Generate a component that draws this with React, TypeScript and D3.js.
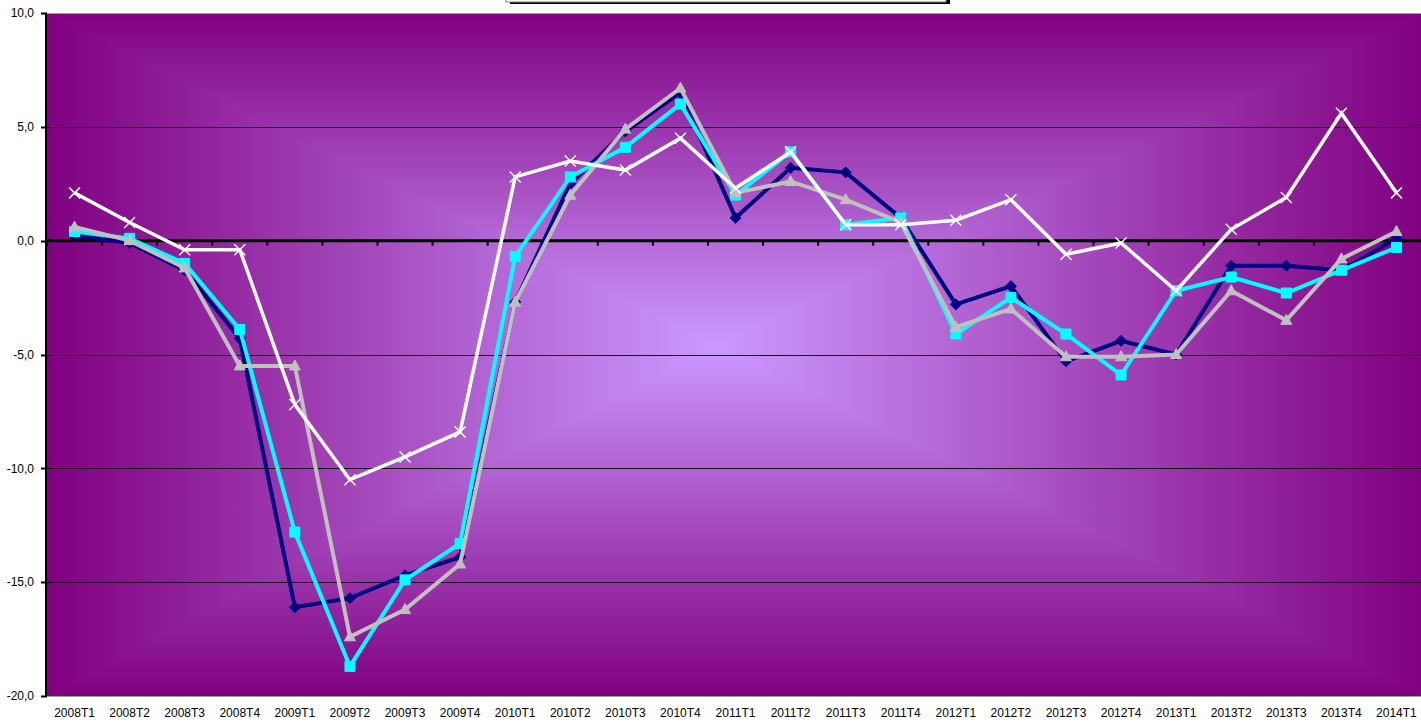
import * as d3 from "d3";

const quarters = [
  "2008T1", "2008T2", "2008T3", "2008T4",
  "2009T1", "2009T2", "2009T3", "2009T4",
  "2010T1", "2010T2", "2010T3", "2010T4",
  "2011T1", "2011T2", "2011T3", "2011T4",
  "2012T1", "2012T2", "2012T3", "2012T4",
  "2013T1", "2013T2", "2013T3", "2013T4",
  "2014T1",
];

const navyValues = [
  0.2, -0.1, -1.3, -4.3, -16.1, -15.7, -14.7, -13.9, -2.7, 2.5, 4.8, 6.5, 1.0,
  3.2, 3.0, 1.0, -2.8, -2.0, -5.3, -4.4, -5.0, -1.1, -1.1, -1.3, 0.1,
];
const cyanValues = [
  0.4, 0.1, -1.0, -3.9, -12.8, -18.7, -14.9, -13.3, -0.7, 2.8, 4.1, 6.0, 2.0,
  3.9, 0.7, 1.0, -4.1, -2.5, -4.1, -5.9, -2.2, -1.6, -2.3, -1.3, -0.3,
];
const greyValues = [
  0.6, 0.0, -1.2, -5.5, -5.5, -17.4, -16.2, -14.2, -2.7, 2.0, 4.9, 6.7, 2.1,
  2.6, 1.8, 0.8, -3.8, -3.0, -5.1, -5.1, -5.0, -2.2, -3.5, -0.8, 0.4,
];
const whiteValues = [
  2.1, 0.8, -0.4, -0.4, -7.2, -10.5, -9.5, -8.4, 2.8, 3.5, 3.1, 4.5, 2.3, 3.9,
  0.7, 0.7, 0.9, 1.8, -0.6, -0.1, -2.2, 0.5, 1.9, 5.6, 2.1,
];

const yTicks = [10, 5, 0, -5, -10, -15, -20];

const W = 1421;
const H = 722;
const left = 47;
const right = 1424;
const top = 13;
const bottom = 696;

const x = d3.scaleBand<string>().domain(quarters).range([left, right]);
const y = d3.scaleLinear().domain([-20, 10]).range([bottom, top]);
const cx = (q: string) => (x(q) as number) + x.bandwidth() / 2;

const line = d3
  .line<number>()
  .x((_, i) => cx(quarters[i]))
  .y((d) => y(d));

const fmt = (v: number) => v.toFixed(1).replace(".", ",");

const EDGE = "#800080";
const CENTER = "#cc99ff";

type Marker = "diamond" | "square" | "triangle" | "cross";

const series: { name: string; values: number[]; color: string; marker: Marker; width: number }[] = [
  { name: "navy", values: navyValues, color: "#000080", marker: "diamond", width: 4 },
  { name: "cyan", values: cyanValues, color: "#00ffff", marker: "square", width: 4 },
  { name: "grey", values: greyValues, color: "#c0c0c0", marker: "triangle", width: 4 },
  { name: "white", values: whiteValues, color: "#ffffff", marker: "cross", width: 3.5 },
];

function markerPath(m: Marker) {
  if (m === "diamond") return "M0,-5.5L5.5,0L0,5.5L-5.5,0Z";
  if (m === "square") return "M-5,-5H5V5H-5Z";
  if (m === "triangle") return "M0,-6L5.5,4H-5.5Z";
  return "M-5.5,-5.5L5.5,5.5M-5.5,5.5L5.5,-5.5";
}

const App = () => {
  // lightest point of the "from centre" fill
  const mx = 715;
  const my = 345;
  return (
    <svg
      width={W}
      height={H}
      style={{ position: "absolute", left: 0, top: 0, background: "#ffffff" }}
      fontFamily="'Liberation Sans', Arial, sans-serif"
    >
      <defs>
        <linearGradient id="gH" gradientUnits="userSpaceOnUse" x1={left} y1={0} x2={right} y2={0}>
          <stop offset="0" stopColor={EDGE} />
          <stop offset={(mx - left) / (right - left)} stopColor={CENTER} />
          <stop offset="1" stopColor={EDGE} />
        </linearGradient>
        <linearGradient id="gV" gradientUnits="userSpaceOnUse" x1={0} y1={top} x2={0} y2={bottom}>
          <stop offset="0" stopColor={EDGE} />
          <stop offset={(my - top) / (bottom - top)} stopColor={CENTER} />
          <stop offset="1" stopColor={EDGE} />
        </linearGradient>
      </defs>

      {/* rectangular fill: horizontal gradient, then top/bottom wedges with the vertical one */}
      <rect x={left} y={top} width={right - left} height={bottom - top} fill="url(#gH)" />
      <path d={`M${left},${top}L${right},${top}L${mx},${my}Z`} fill="url(#gV)" />
      <path d={`M${left},${bottom}L${right},${bottom}L${mx},${my}Z`} fill="url(#gV)" />

      {/* legend box, mostly cut off at the top */}
      <rect x={510} y={-40} width={440} height={44} fill="#000000" />
      <rect x={506} y={-40} width={440} height={42} fill="#ffffff" stroke="#808080" strokeWidth={1} />

      {/* plot border top/bottom */}
      <line x1={left} x2={right} y1={top + 0.5} y2={top + 0.5} stroke="#a0a0a0" />
      <line x1={left} x2={right} y1={bottom + 0.5} y2={bottom + 0.5} stroke="#a0a0a0" />

      {/* gridlines */}
      {yTicks
        .filter((t) => t !== 0 && t !== 10 && t !== -20)
        .map((t) => (
          <line key={t} x1={left} x2={right} y1={Math.round(y(t)) + 0.5} y2={Math.round(y(t)) + 0.5} stroke="#1a0a1a" strokeWidth={1} />
        ))}

      {/* y axis */}
      <line x1={left - 1} x2={left - 1} y1={top} y2={bottom} stroke="#000000" strokeWidth={2} />
      {yTicks.map((t) => (
        <g key={t}>
          <line x1={left - 6} x2={left} y1={Math.round(y(t)) + 0.5} y2={Math.round(y(t)) + 0.5} stroke="#000000" strokeWidth={2} />
          <text x={34} y={y(t)} dy="0.35em" textAnchor="end" fontSize={12} fill="#000000">
            {fmt(t)}
          </text>
        </g>
      ))}

      {/* zero line with category ticks */}
      <line x1={left} x2={right} y1={y(0)} y2={y(0)} stroke="#000000" strokeWidth={3} />
      {quarters.map((q) => (
        <line key={q} x1={x(q) as number} x2={x(q) as number} y1={y(0)} y2={y(0) + 5} stroke="#000000" strokeWidth={2} />
      ))}

      {/* x labels */}
      {quarters.map((q) => (
        <text key={q} x={cx(q)} y={717} textAnchor="middle" fontSize={12} fill="#000000">
          {q}
        </text>
      ))}

      {/* series */}
      {series.map((s) => (
        <g key={s.name}>
          <path d={line(s.values) as string} fill="none" stroke={s.color} strokeWidth={s.width} strokeLinejoin="miter" />
          {s.values.map((v, i) => (
            <path
              key={i}
              transform={`translate(${cx(quarters[i])},${y(v)})`}
              d={markerPath(s.marker)}
              fill={s.marker === "cross" ? "none" : s.color}
              stroke={s.color}
              strokeWidth={s.marker === "cross" ? 1.5 : 1}
            />
          ))}
        </g>
      ))}
    </svg>
  );
};

export default App;
